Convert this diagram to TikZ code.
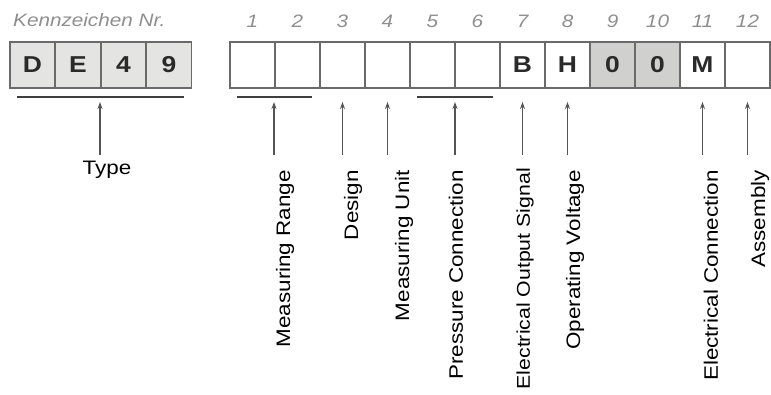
\documentclass[tikz,border=0pt]{standalone}
\usepackage{fontspec}
\setmainfont{Liberation Sans}
\newfontfamily\labfont[FakeStretch=1.15]{Liberation Sans}
\usetikzlibrary{arrows.meta}
\definecolor{boxline}{HTML}{6A6A6A}
\definecolor{fillA}{HTML}{E4E4E2}
\definecolor{fillB}{HTML}{D0D0CE}
\definecolor{txt}{HTML}{2A2A2A}
\definecolor{numgray}{HTML}{8E8E8E}
\definecolor{arrgray}{HTML}{555555}
\tikzset{
  cell/.style={draw=boxline, line width=1.5pt, minimum width=45pt, minimum height=46pt, inner sep=0pt, outer sep=0pt,
    font=\fontsize{23}{23}\labfont\bfseries, text=txt},
  num/.style={font=\fontsize{18}{18}\labfont\itshape, text=numgray, inner sep=0pt},
  uline/.style={draw=txt!90, line width=2.4pt},
  arr/.style={draw=arrgray, line width=1.5pt, -{Stealth[length=7pt,width=5pt]}},
  lab/.style={rotate=90, anchor=east, inner sep=0pt, font=\fontsize{19.5}{20}\labfont, text=black}
}
\begin{document}
\begin{tikzpicture}[x=1pt,y=-1pt]
\useasboundingbox (0,0) rectangle (771,394);
\clip (0,0) rectangle (771,394);
% header
\node[num, anchor=west] (kn) at (13,20) {Kennzeichen Nr.};
% left cells
\node[cell, fill=fillA] (k1) at (32.5,65) {D};
\node[cell, fill=fillA] (k2) at (78,65) {E};
\node[cell, fill=fillA] (k3) at (123.5,65) {4};
\node[cell, fill=fillA] (k4) at (169,65) {9};
% right cells
\foreach \i/\t/\f in {1//white,2//white,3//white,4//white,5//white,6//white,7/B/white,8/H/white,9/0/fillB,10/0/fillB,11/M/white,12//white}{
  \node[cell, fill=\f] (b\i) at ({230+45*(\i-1)+22.5},65) {\t};
  \node[num] (n\i) at ({230+45*(\i-1)+22.5},21) {\i};
}
% underlines
\coordinate (u1a) at (17,97); \coordinate (u1b) at (184,97);
\coordinate (u2a) at (237,97); \coordinate (u2b) at (312,97);
\coordinate (u3a) at (417,97); \coordinate (u3b) at (493,97);
\draw[uline] (u1a) -- (u1b);
\draw[uline] (u2a) -- (u2b);
\draw[uline] (u3a) -- (u3b);
% arrows
\foreach \n/\x in {t/100,a/274,b/342.5,c/387.5,d/455,e/522.5,f/567.5,g/702.5,h/747.5}{
  \coordinate (s\n) at (\x,155);
  \coordinate (e\n) at (\x,102);
  \draw[arr] (s\n) -- (e\n);
}
% labels
\node[font=\fontsize{19.5}{20}\labfont, inner sep=0pt] (ty) at (107,170) {Type};
\node[lab] (la) at (285,170) {Measuring Range};
\node[lab] (lb) at (353,170) {Design};
\node[lab] (lc) at (404,170) {Measuring Unit};
\node[lab] (ld) at (456,170) {Pressure Connection};
\node[lab, font=\fontsize{18.5}{19}\labfont] (le) at (525,168) {Electrical Output Signal};
\node[lab] (lf) at (575,170) {Operating Voltage};
\node[lab] (lg) at (711,170) {Electrical Connection};
\node[lab] (lh) at (760,170) {Assembly};
\end{tikzpicture}
\end{document}
